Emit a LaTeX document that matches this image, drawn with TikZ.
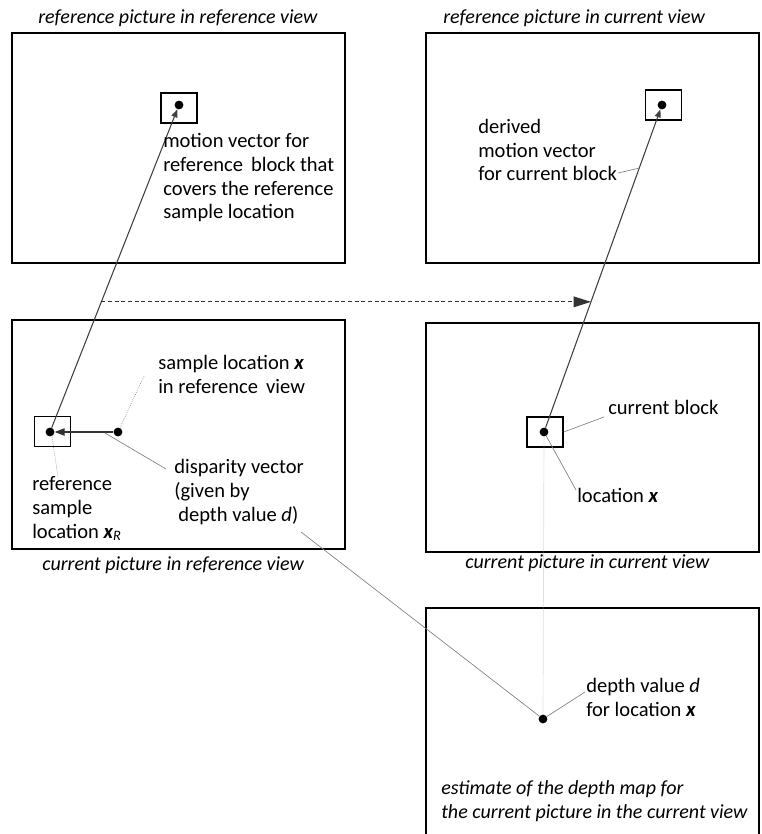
\documentclass[tikz,border=0pt]{standalone}
\usepackage{fontspec}
\setmainfont{Carlito}
\usetikzlibrary{arrows.meta,calc}
\begin{document}
\begin{tikzpicture}[x=0.75pt,y=-0.75pt,
  frame/.style={draw=black,line width=1.5pt,inner sep=0pt,outer sep=0pt,minimum width=249.75pt,minimum height=172.5pt},
  blk/.style={draw=black,line width=1.1pt,inner sep=0pt,minimum width=27pt,minimum height=22.5pt},
  dot/.style={circle,fill=black,inner sep=0pt,minimum size=6.6pt},
  mv/.style={draw=black!75,line width=0.8pt,-{Triangle[length=6pt,width=4.5pt]}},
  disp/.style={draw=black!80,line width=0.8pt,-{Triangle[length=7.5pt,width=5.5pt]}},
  dasharrow/.style={draw=black!80,line width=0.8pt,dashed,dash pattern=on 3pt off 2pt,-{Triangle[length=13pt,width=8pt]}},
  leader/.style={draw=black!50,line width=0.5pt},
  dleader/.style={draw=black!50,line width=0.5pt,densely dotted},
  lbl/.style={font=\fontsize{15.4}{17.8}\selectfont,anchor=base west,inner sep=0pt,align=left},
  ttl/.style={font=\fontsize{15}{17.8}\selectfont\itshape,anchor=base west,inner sep=0pt,align=left}]
\useasboundingbox (0,0) rectangle (761,834);

% frames
\node[frame] (refref) at (178.5,148) {};
\node[frame] (refcur) at (592.5,148) {};
\node[frame,minimum height=171.75pt] (curref) at (178.5,434.5) {};
\node[frame,minimum height=171.75pt] (curcur) at (592.5,437.5) {};
\coordinate (dmBL) at (426,840);
\coordinate (dmTL) at (426,608);
\coordinate (dmTR) at (759,608);
\coordinate (dmBR) at (759,840);
\draw[line width=1.5pt] (dmBL) -- (dmTL) -- (dmTR) -- (dmBR);

% titles
\node[ttl] (t1) at (38,24) {reference picture in reference view};
\node[ttl] (t2) at (443,24) {reference picture in current view};
\node[ttl] (t3) at (42,570) {current picture in reference view};
\node[ttl] (t4) at (465,568) {current picture in current view};
\node[ttl] (t5) at (441,818) {estimate of the depth map for\\the current picture in the current view};

% blocks
\node[blk] (bTL) at (179,108) {};
\node[blk] (bTR) at (663.5,105) {};
\node[blk] (bLL) at (52.5,431.5) {};
\node[blk] (bLR) at (545,432) {};

% dots
\node[dot] (dTL) at (179,105) {};
\node[dot] (dTR) at (662,105) {};
\node[dot] (dLL) at (50,432) {};
\node[dot] (dX) at (118,432) {};
\node[dot] (dLR) at (544,432) {};
\node[dot] (dD) at (543,719) {};

% vectors
\draw[mv] (dLL) -- (dTL);
\draw[mv] (dLR) -- (dTR);
\draw[disp] (dX) -- (dLL);
\coordinate (dsL) at ($(dLL)!0.398!(dTL)$);
\coordinate (dsR) at ($(dLR)!0.398!(dTR)$);
\draw[dasharrow] (dsL) -- (dsR);

% labels (anchored at the baseline of their last line)
\node[lbl] (lmv) at (163,219) {motion vector for\\reference\, block that\\covers the reference\\sample location};
\node[lbl] (lder) at (478,181) {derived\\motion vector\\for current block};
\node[lbl] (lsx) at (158,393) {sample location {\bfseries\itshape x}\\in reference\, view};
\node[lbl] (ldv) at (174,521) {disparity vector\\(given by\\\hspace{3pt}depth value \textit{d})};
\node[lbl] (lrs) at (32,538) {reference\\sample\\location {\bfseries\itshape x}\textsubscript{\itshape R}};
\node[lbl] (lcb) at (608,414) {current block};
\node[lbl] (llx) at (577,502) {location {\bfseries\itshape x}};
\node[lbl] (ldd) at (586,716) {depth value \textit{d}\\for location {\bfseries\itshape x}};

% leaders
\coordinate (mvR) at ($(dLR)!0.807!(dTR)$);
\coordinate (lderE) at (618,173);
\draw[leader] (lderE) -- (mvR);
\coordinate (lsxE) at (144,376);
\draw[dleader] (lsxE) -- (dX);
\coordinate (dvA) at (105,433);
\coordinate (dvB) at (166,469);
\draw[leader] (dvA) -- (dvB);
\coordinate (rsA) at (52,437);
\coordinate (rsB) at (58,477);
\draw[dleader] (rsA) -- (rsB);
\coordinate (ldvE) at (301,532);
\draw[leader] (ldvE) -- (dD);
\coordinate (lcbE) at (604,417);
\draw[leader] (bLR.east) -- (lcbE);
\coordinate (llxE) at (576,490);
\draw[leader] (dLR) -- (llxE);
\draw[dleader,draw=black!35] (dLR) -- (dD);
\coordinate (lddE) at (585,692);
\draw[leader] (dD) -- (lddE);
\end{tikzpicture}
\end{document}
